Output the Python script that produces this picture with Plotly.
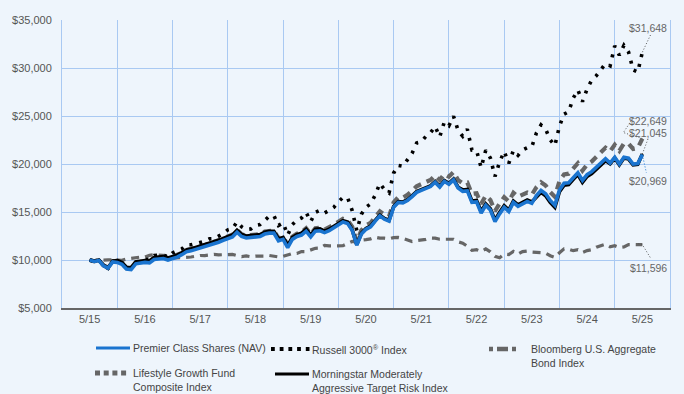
import plotly.graph_objects as go

# ---------------- data (growth of $10,000, monthly 5/15 .. 5/25) ----------------
tick_labels = ["5/15", "5/16", "5/17", "5/18", "5/19", "5/20",
               "5/21", "5/22", "5/23", "5/24", "5/25"]
months = list(range(121))

premier = [
    10000, 9850, 9950, 9400, 9150, 9800, 9750, 9550, 9050, 9000, 9600, 9700,
    9750, 9700, 10050, 10100, 10150, 10000, 10150, 10300, 10550, 10850, 10950, 11100,
    11250, 11350, 11550, 11650, 11850, 12050, 12250, 12400, 12900, 12450, 12300, 12350,
    12450, 12450, 12700, 12800, 12800, 12000, 12150, 11300, 12150, 12450, 12600, 13000,
    12400, 13000, 13050, 12850, 13050, 13350, 13650, 13950, 13800, 13100, 11550, 12700,
    13200, 13450, 14050, 14600, 14250, 14050, 15500, 16000, 15950, 16200, 16600, 17050,
    17250, 17450, 17650, 18100, 17600, 18200, 17900, 18350, 17500, 17150, 17200, 16000,
    16050, 14900, 15700, 15200, 14000, 14800, 15500, 15050, 16000, 15600, 15900, 16100,
    15900, 16700, 17250, 16900, 16200, 15700, 17300, 18000, 18050, 18600, 19100, 18300,
    18900, 19200, 19650, 20100, 20550, 20100, 20700, 20000, 20700, 20600, 20000, 20050,
    20969]

russell = [
    10000, 9830, 9990, 9390, 9120, 9880, 9930, 9730, 9180, 9180, 9810, 9870,
    10050, 10070, 10470, 10490, 10510, 10280, 10740, 10950, 11150, 11580, 11590, 11710,
    11850, 11960, 12200, 12220, 12480, 12750, 13140, 13270, 13970, 13460, 13180, 13230,
    13600, 13690, 14110, 14570, 14630, 13600, 13870, 12600, 13680, 14150, 14380, 14960,
    14000, 14970, 15190, 14900, 15160, 15480, 16060, 16520, 16500, 15150, 13060, 14770,
    15500, 15850, 16760, 17980, 17340, 16980, 19060, 19860, 19770, 20370, 21110, 22190,
    22310, 22870, 23250, 23920, 22820, 24370, 23990, 24970, 23500, 22900, 23630, 21450,
    21410, 19620, 21430, 20630, 18710, 20200, 21320, 20070, 21420, 20900, 21470, 21700,
    21800, 23240, 24070, 23630, 22510, 21910, 23940, 25190, 25450, 26870, 27700, 26500,
    27820, 28740, 29200, 29830, 30460, 30230, 32300, 31330, 32350, 31660, 29790, 29570,
    31648]

bloomberg = [
    10000, 9890, 9960, 9950, 10020, 10020, 9990, 9960, 10100, 10170, 10270, 10300,
    10300, 10490, 10550, 10540, 10530, 10450, 10200, 10220, 10240, 10310, 10310, 10390,
    10470, 10460, 10500, 10590, 10540, 10550, 10540, 10580, 10450, 10350, 10420, 10340,
    10410, 10400, 10410, 10470, 10400, 10320, 10380, 10570, 10680, 10680, 10880, 10880,
    11080, 11220, 11240, 11530, 11470, 11500, 11490, 11490, 11720, 11930, 11860, 12070,
    12120, 12200, 12380, 12280, 12270, 12210, 12330, 12350, 12260, 12080, 11930, 12030,
    12070, 12150, 12290, 12270, 12160, 12160, 12200, 12160, 11890, 11760, 11430, 11000,
    11070, 10890, 11160, 10850, 10380, 10240, 10620, 10570, 10900, 10610, 10880, 10940,
    10830, 10800, 10790, 10720, 10450, 10280, 10750, 11160, 11130, 10970, 11070, 10790,
    10980, 11080, 11340, 11510, 11660, 11370, 11490, 11300, 11360, 11610, 11610, 11650,
    11596]

lifestyle = [
    10000, 9860, 9980, 9440, 9200, 9860, 9830, 9640, 9150, 9110, 9730, 9840,
    9900, 9850, 10210, 10260, 10320, 10170, 10330, 10480, 10730, 11040, 11140, 11300,
    11450, 11550, 11760, 11860, 12070, 12270, 12480, 12630, 13130, 12690, 12540, 12600,
    12700, 12700, 12960, 13060, 13070, 12270, 12430, 11580, 12430, 12740, 12890, 13300,
    12700, 13310, 13360, 13170, 13380, 13680, 13990, 14290, 14150, 13470, 11930, 13100,
    13610, 13880, 14490, 15060, 14720, 14540, 16000, 16530, 16500, 16780, 17200, 17680,
    17900, 18120, 18340, 18810, 18340, 18960, 18680, 19150, 18320, 17990, 18060, 16880,
    16950, 15850, 16700, 16250, 15100, 15880, 16550, 16080, 17000, 16580, 16850, 17030,
    16800, 17580, 18100, 17760, 17080, 16590, 18210, 18920, 18990, 19550, 20080, 19310,
    19940, 20260, 20740, 21220, 21700, 21330, 22000, 21380, 22150, 22110, 21570, 21670,
    22649]

morningstar = [
    10000, 9900, 10000, 9450, 9200, 9850, 9950, 9750, 9250, 9200, 9800, 9900,
    9950, 9900, 10250, 10300, 10350, 10200, 10350, 10500, 10750, 11050, 11150, 11300,
    11450, 11550, 11750, 11850, 12050, 12250, 12450, 12600, 13100, 12650, 12500, 12550,
    12650, 12650, 12900, 13000, 13000, 12200, 12350, 11500, 12350, 12650, 12800, 13200,
    12600, 13200, 13250, 13000, 13200, 13500, 13800, 14100, 13950, 13150, 11600, 12780,
    13280, 13530, 14130, 14680, 14330, 14130, 15580, 16080, 16030, 16280, 16680, 17130,
    17330, 17530, 17730, 18180, 17680, 18280, 17980, 18430, 17580, 17300, 17350, 16150,
    16200, 15050, 15850, 15350, 14150, 14950, 15650, 15200, 16150, 15750, 16050, 16250,
    16050, 16500, 17050, 16700, 16000, 15500, 17100, 17800, 17850, 18400, 18900, 18100,
    18700, 19000, 19450, 19900, 20350, 20020, 20620, 19920, 20620, 20520, 19920, 19970,
    21045]

names = ["Premier Class Shares (NAV)", "Russell 3000<sup>®</sup> Index",
         "Bloomberg U.S. Aggregate<br>Bond Index",
         "Lifestyle Growth Fund<br>Composite Index",
         "Morningstar Moderately<br>Aggressive Target Risk Index"]

# ---------------- styling ----------------
BG = "#eef5fc"
GRID = "#a9c9f2"
BLUE = "#1a74cf"
GRAY = "#666666"
FONT = "Liberation Sans, Arial, sans-serif"
TXT = "#555555"

W, H = 684, 394
ML, MR, MT, MB = 62, 14, 20, 86
PW, PH = W - ML - MR, H - MT - MB


def px(xp):
    return (xp - ML) / PW


def py(yp):
    return (H - MB - yp) / PH


fig = go.Figure()
fig.add_trace(go.Scatter(x=months, y=bloomberg, mode="lines",
                         line=dict(color=GRAY, width=3.2, dash="8px,6px")))
fig.add_trace(go.Scatter(x=months, y=lifestyle, mode="lines",
                         line=dict(color=GRAY, width=4.2, dash="8px,6px")))
fig.add_trace(go.Scatter(x=months, y=russell, mode="lines",
                         line=dict(color="#000000", width=3.6, dash="3px,7px")))
fig.add_trace(go.Scatter(x=months, y=morningstar, mode="lines",
                         line=dict(color="#000000", width=3.6)))
fig.add_trace(go.Scatter(x=months, y=premier, mode="lines",
                         line=dict(color=BLUE, width=3.6)))

fig.update_layout(
    width=W, height=H,
    margin=dict(l=ML, r=MR, t=MT, b=MB),
    paper_bgcolor=BG, plot_bgcolor=BG,
    showlegend=False,
    font=dict(family=FONT, size=11, color=TXT),
    xaxis=dict(range=[-6, 126], tickmode="array",
               tickvals=[12 * i for i in range(len(tick_labels))],
               ticktext=tick_labels, showgrid=False, zeroline=False,
               ticks="", showline=True, linecolor="#666666", linewidth=1.5,
               tickfont=dict(size=11, color=TXT),
               minor=dict(tick0=-6, dtick=12, showgrid=True, gridcolor=GRID,
                          gridwidth=1, ticks="")),
    yaxis=dict(range=[5000, 35000], dtick=5000, tickformat="$,",
               showgrid=True, gridcolor=GRID, gridwidth=1, zeroline=False,
               ticks="", ticklabelstandoff=7, showline=True, linecolor=GRID,
               mirror=True, tickfont=dict(size=11, color=TXT)),
)

# ---------------- end labels with leader lines ----------------
last = len(months) - 1
ends = [
    (russell[-1], 24, "#555555", [(0, 0), (9, 19)]),
    (lifestyle[-1], 18, "#555555", [(0, 0), (-19, 6), (-9, 21)]),
    (morningstar[-1], 21, "#555555", [(0, 0), (6, 16)]),
    (premier[-1], -26, BLUE, [(0, 0), (4, -18)]),
    (bloomberg[-1], -23, "#555555", [(-4, 1), (0, 0), (8, -13)]),
]
for val, ysh, lc, pts in ends:
    fig.add_annotation(x=months[last], y=val, xref="x", yref="y",
                       text="${:,}".format(val), showarrow=False,
                       xanchor="right", yanchor="middle", xshift=27, yshift=ysh,
                       font=dict(size=10.5, color="#666666", family=FONT))
    path = "M" + " L".join("{},{}".format(a, b) for a, b in pts)
    fig.add_shape(type="path", xref="x", yref="y", xsizemode="pixel",
                  ysizemode="pixel", xanchor=months[last], yanchor=val,
                  path=path, line=dict(color=lc, width=1, dash="1px,2px"))

# ---------------- custom legend ----------------
legend_items = [
    # (name idx, x0, x1, y, color, width, dash, text x)
    (0, 96, 130, 348, BLUE, 3, "solid", 131),
    (1, 271, 309.5, 349, "#000000", 4, "3.8px,4.9px", 310),
    (2, 489, 526, 349, GRAY, 4.5, "4px,4px,11px,4px,4px,30px", 529),
    (3, 95, 129, 373, GRAY, 5, "5px,3.7px", 131),
    (4, 275, 309, 374, "#000000", 3, "solid", 310),
]
for idx, x0, x1, yy, col, wd, dsh, tx in legend_items:
    fig.add_shape(type="line", xref="paper", yref="paper",
                  x0=px(x0), x1=px(x1), y0=py(yy), y1=py(yy),
                  line=dict(color=col, width=wd, dash=dsh))
    fig.add_annotation(xref="paper", yref="paper", x=px(tx), y=py(yy - 8),
                       text=names[idx], showarrow=False, align="left",
                       xanchor="left", yanchor="top",
                       font=dict(size=10.5, color="#444444", family=FONT))

fig.write_html("out.html", config={"displayModeBar": False},
               post_script="document.body.style.margin='0';")
